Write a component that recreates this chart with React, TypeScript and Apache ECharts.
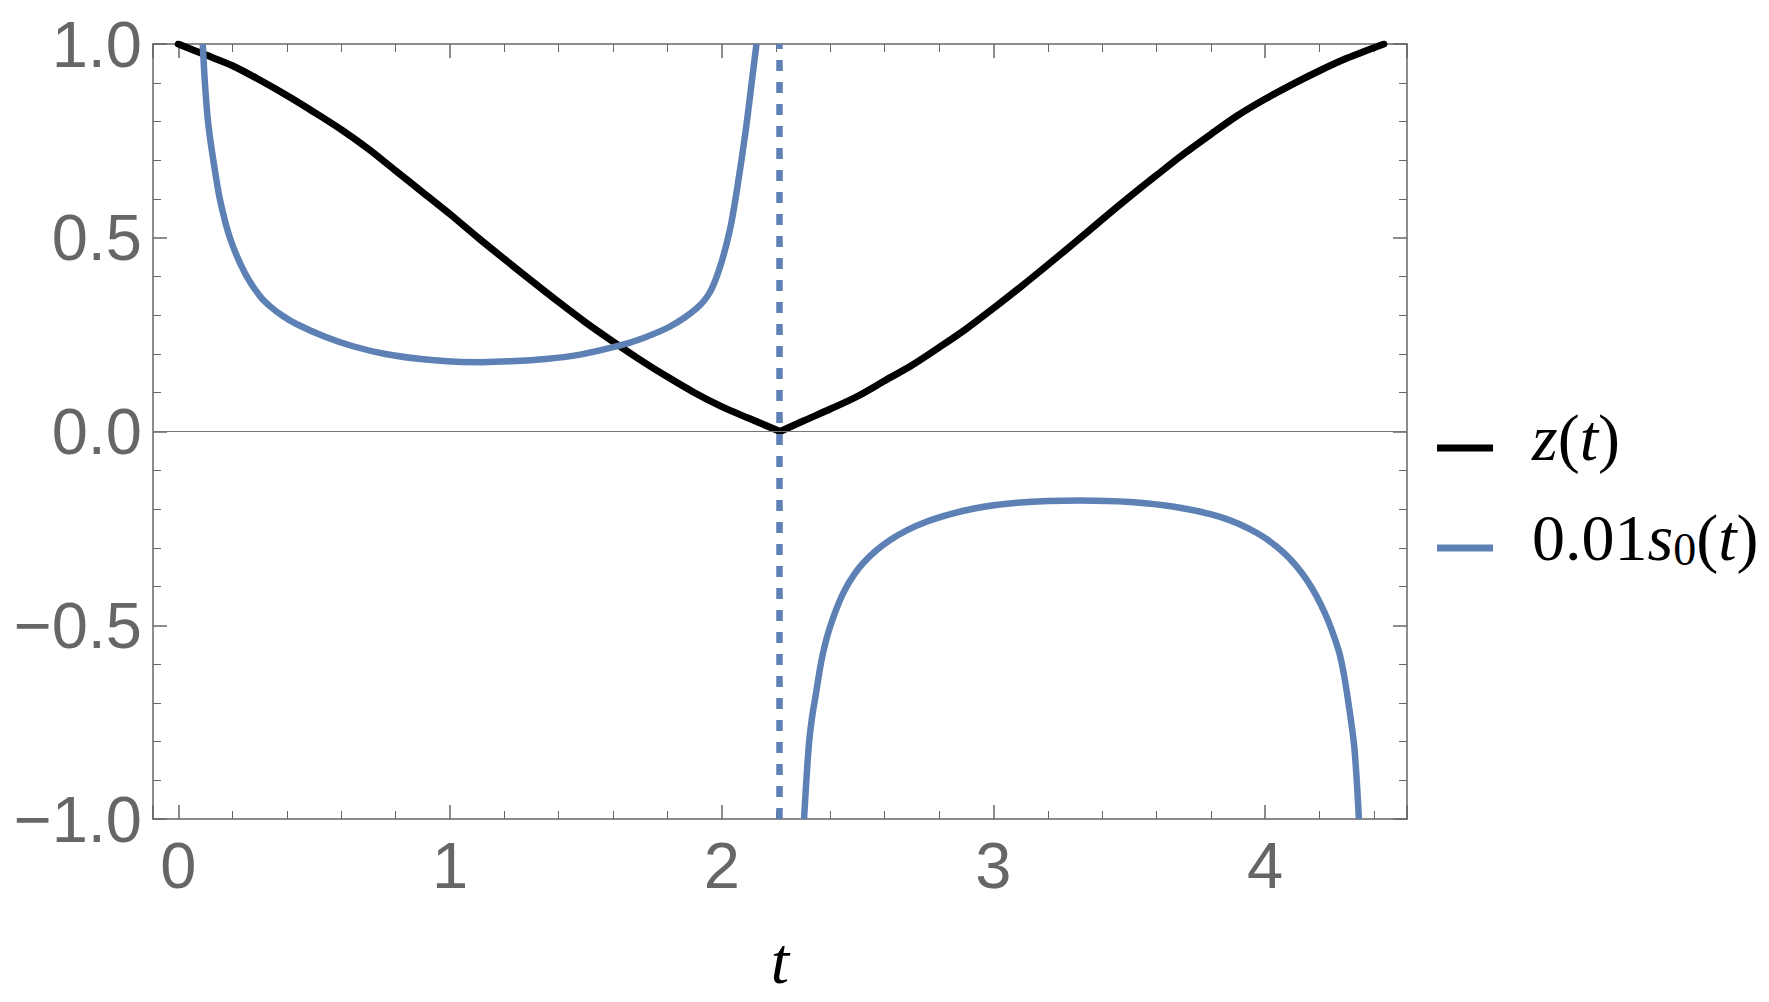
import React, { useEffect, useRef } from "react";
import * as echarts from "echarts";

// ---- axis ranges (read from the frame) ----
const X_MIN = -0.093;
const X_MAX = 4.522;
const Y_MIN = -1;
const Y_MAX = 1;
const Y_INTERVAL = 0.5;

// ---- z(t): black curve, left half (down to the kink) ----
const zLeftT = [0, 0.1, 0.2, 0.3, 0.4, 0.5, 0.6, 0.7, 0.8, 0.9, 1.0, 1.1, 1.2, 1.3, 1.4, 1.5, 1.6, 1.7, 1.8, 1.9, 2.0, 2.1, 2.215];
const zLeftV = [1.0, 0.972, 0.944, 0.907, 0.867, 0.824, 0.779, 0.729, 0.673, 0.617, 0.561, 0.502, 0.445, 0.389, 0.334, 0.281, 0.232, 0.185, 0.141, 0.1, 0.064, 0.034, 0.0];

// ---- z(t): black curve, right half (from the kink) ----
const zRightT = [2.215, 2.3, 2.4, 2.5, 2.6, 2.7, 2.8, 2.9, 3.0, 3.1, 3.2, 3.3, 3.4, 3.5, 3.6, 3.7, 3.8, 3.9, 4.0, 4.1, 4.2, 4.3, 4.437];
const zRightV = [0.0, 0.027, 0.058, 0.091, 0.131, 0.171, 0.217, 0.265, 0.318, 0.373, 0.43, 0.488, 0.547, 0.605, 0.661, 0.716, 0.767, 0.816, 0.858, 0.896, 0.931, 0.963, 1.0];

// ---- 0.01 s0(t): blue curve, first branch ----
const sLeftT = [0.09, 0.098, 0.11, 0.129, 0.153, 0.19, 0.245, 0.301, 0.338, 0.385, 0.433, 0.538, 0.643, 0.762, 0.893, 1.024, 1.116, 1.221, 1.353, 1.484, 1.626, 1.699, 1.81, 1.908, 1.957, 1.994, 2.03, 2.053, 2.087, 2.112, 2.128];
const sLeftV = [1.0, 0.9, 0.796, 0.7, 0.6, 0.5, 0.409, 0.349, 0.323, 0.298, 0.278, 0.245, 0.22, 0.2, 0.187, 0.18, 0.179, 0.181, 0.187, 0.199, 0.222, 0.238, 0.271, 0.318, 0.36, 0.425, 0.52, 0.61, 0.77, 0.91, 1.0];

// ---- 0.01 s0(t): blue curve, second branch ----
const sRightT = [2.303, 2.32, 2.332, 2.345, 2.37, 2.403, 2.453, 2.52, 2.62, 2.753, 2.92, 3.087, 3.32, 3.503, 3.67, 3.837, 3.97, 4.07, 4.153, 4.22, 4.27, 4.288, 4.303, 4.328, 4.345];
const sRightV = [-1.0, -0.814, -0.74, -0.684, -0.581, -0.495, -0.409, -0.34, -0.28, -0.233, -0.2, -0.184, -0.178, -0.182, -0.195, -0.221, -0.262, -0.314, -0.383, -0.469, -0.564, -0.62, -0.684, -0.814, -1.0];

// ---- vertical dashed asymptote and horizontal zero line ----
const asymptoteT = 2.215;
const zeroLineV = 0;

const seriesNames = ["z(t)", "0.01s0(t)"];

const BLUE = "#5E81B5";
const GRAY = "#666666";

function pairs(ts: number[], vs: number[]) {
  return ts.map((t, i) => [t, vs[i]]);
}

export default function App() {
  const ref = useRef<HTMLDivElement>(null);

  useEffect(() => {
    document.body.style.margin = "0";
    if (!ref.current) return;
    const chart = echarts.init(ref.current, undefined, { renderer: "svg" });

    const tickCommon = {
      axisLine: { show: true, onZero: false, lineStyle: { color: GRAY, width: 1.5 } },
      axisTick: { show: true, inside: true, length: 14, lineStyle: { color: GRAY, width: 1.5 } },
      minorTick: { show: true, splitNumber: 5, length: 8, lineStyle: { color: GRAY, width: 1 } },
      splitLine: { show: false },
      minorSplitLine: { show: false },
    };

    const blueData = [...pairs(sLeftT, sLeftV), [asymptoteT, "-"], ...pairs(sRightT, sRightV)];

    chart.setOption({
      animation: false,
      backgroundColor: "#ffffff",
      grid: { left: 153, top: 44, right: 362, bottom: 183, containLabel: false },
      legend: {
        orient: "vertical",
        left: 1432,
        top: 399,
        itemWidth: 56,
        itemHeight: 7,
        itemGap: 34,
        selectedMode: false,
        data: [
          { name: seriesNames[0], icon: "rect" },
          { name: seriesNames[1], icon: "rect" },
        ],
        formatter: (name: string) =>
          name === seriesNames[0]
            ? "{i|z}{r|(}{i|t}{r|)}"
            : "{r|0.01}{i|s}{sub|0}{r|(}{i|t}{r|)}",
        textStyle: {
          padding: [0, 0, 22, 34],
          rich: {
            i: { fontFamily: "Liberation Serif", fontStyle: "italic", fontSize: 66, lineHeight: 70, color: "#000" },
            r: { fontFamily: "Liberation Serif", fontSize: 66, lineHeight: 70, color: "#000" },
            sub: { fontFamily: "Liberation Serif", fontSize: 46, lineHeight: 36, verticalAlign: "bottom", color: "#000" },
          },
        },
      },
      xAxis: [
        {
          type: "value",
          position: "bottom",
          min: X_MIN,
          max: X_MAX,
          splitNumber: 5,
          ...tickCommon,
          axisLabel: {
            show: true,
            fontFamily: "Liberation Sans",
            fontSize: 65,
            color: GRAY,
            margin: 14,
            formatter: (v: number) => (Math.abs(v - Math.round(v)) < 1e-9 ? String(Math.round(v)) : ""),
          },
          name: "t",
          nameLocation: "middle",
          nameGap: 108,
          nameTextStyle: { fontFamily: "Liberation Serif", fontStyle: "italic", fontSize: 66, color: "#000" },
        },
        {
          type: "value",
          position: "top",
          min: X_MIN,
          max: X_MAX,
          splitNumber: 5,
          ...tickCommon,
          axisLabel: { show: false },
        },
      ],
      yAxis: [
        {
          type: "value",
          position: "left",
          min: Y_MIN,
          max: Y_MAX,
          interval: Y_INTERVAL,
          ...tickCommon,
          axisLabel: {
            show: true,
            fontFamily: "Liberation Sans",
            fontSize: 65,
            color: GRAY,
            margin: 11,
            formatter: (v: number) => v.toFixed(1).replace("-", "\u2212"),
          },
        },
        {
          type: "value",
          position: "right",
          min: Y_MIN,
          max: Y_MAX,
          interval: Y_INTERVAL,
          ...tickCommon,
          axisLabel: { show: false },
        },
      ],
      series: [
        {
          name: seriesNames[0],
          type: "line",
          xAxisIndex: 0,
          yAxisIndex: 0,
          data: pairs(zLeftT, zLeftV),
          smooth: 0.3,
          showSymbol: false,
          color: "#000",
          itemStyle: { color: "#000" },
          lineStyle: { color: "#000", width: 7, cap: "round", join: "round" },
          z: 2,
          markLine: {
            silent: true,
            symbol: "none",
            label: { show: false },
            lineStyle: { color: "#777", width: 1, type: "solid" },
            data: [{ yAxis: zeroLineV }],
          },
        },
        {
          name: seriesNames[0],
          type: "line",
          xAxisIndex: 0,
          yAxisIndex: 0,
          data: pairs(zRightT, zRightV),
          smooth: 0.3,
          showSymbol: false,
          color: "#000",
          itemStyle: { color: "#000" },
          lineStyle: { color: "#000", width: 7, cap: "round", join: "round" },
          z: 2,
        },
        {
          name: seriesNames[1],
          type: "line",
          xAxisIndex: 0,
          yAxisIndex: 0,
          data: blueData,
          connectNulls: false,
          smooth: 0.3,
          showSymbol: false,
          color: BLUE,
          itemStyle: { color: BLUE },
          lineStyle: { color: BLUE, width: 6.5, join: "round" },
          z: 3,
          markLine: {
            silent: true,
            symbol: "none",
            label: { show: false },
            lineStyle: { color: BLUE, width: 6.5, type: [11, 11] },
            data: [{ xAxis: asymptoteT }],
          },
        },
      ],
    });

    return () => chart.dispose();
  }, []);

  return <div ref={ref} style={{ width: 1769, height: 1002 }} />;
}
